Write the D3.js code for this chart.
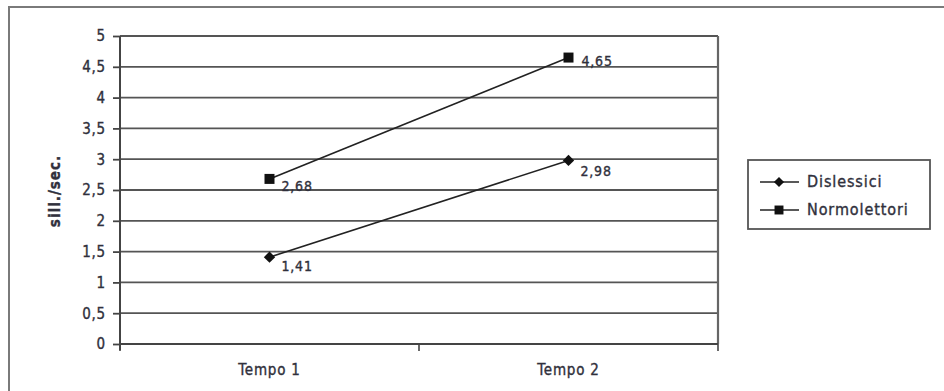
<!DOCTYPE html>
<html>
<head>
<meta charset="utf-8">
<script src="https://cdn.jsdelivr.net/npm/d3@7"></script>
<style>
  html, body { margin: 0; padding: 0; background: #fff; }
  svg { display: block; }
  text { font-family: "DejaVu Sans Condensed", "DejaVu Sans", sans-serif; fill: #30303c; stroke: #30303c; stroke-width: 0.35px; }
</style>
</head>
<body>
<svg id="chart" width="944" height="391"></svg>
<script>
// Reading speed (syllables per second) at two time points
const categories = ["Tempo 1", "Tempo 2"];
const dislessici = [1.41, 2.98];
const normolettori = [2.68, 4.65];
const seriesNames = ["Dislessici", "Normolettori"];
const yTicks = [0, 0.5, 1, 1.5, 2, 2.5, 3, 3.5, 4, 4.5, 5];
const yTitle = "sill./sec.";

const svg = d3.select("#chart");
const fmt = v => String(v).replace(".", ",");

// frame round the whole figure
svg.append("rect")
  .attr("x", 9).attr("y", 7).attr("width", 960).attr("height", 420)
  .attr("fill", "none").attr("stroke", "#7a7a7a").attr("stroke-width", 2);

const plot = { left: 120, right: 718, top: 36, bottom: 344 };

const x = d3.scaleBand().domain(categories).range([plot.left, plot.right]);
const y = d3.scaleLinear().domain([0, 5]).range([plot.bottom, plot.top]);

// horizontal grid lines
svg.append("g").selectAll("line").data(yTicks.filter(t => t > 0)).join("line")
  .attr("x1", plot.left).attr("x2", plot.right)
  .attr("y1", d => y(d)).attr("y2", d => y(d))
  .attr("stroke", "#555").attr("stroke-width", 1.8);

// right edge of the plot area
svg.append("line")
  .attr("x1", plot.right).attr("x2", plot.right)
  .attr("y1", plot.top).attr("y2", plot.bottom)
  .attr("stroke", "#666").attr("stroke-width", 2.2);

// y axis
const yAxis = d3.axisLeft(y).tickValues(yTicks).tickSize(7).tickPadding(7).tickFormat(fmt);
const gy = svg.append("g").attr("transform", `translate(${plot.left},0)`).call(yAxis);
gy.select(".domain").attr("stroke", "#444").attr("stroke-width", 2).attr("d", `M0,${plot.top}V${plot.bottom + 6}`);
gy.selectAll(".tick line").attr("stroke", "#444").attr("stroke-width", 1.8);
gy.selectAll(".tick text").attr("font-size", 15).attr("letter-spacing", 0.8)
  .attr("font-family", "DejaVu Sans Condensed").attr("fill", "#30303c");

// x axis with ticks on the band boundaries
const gx = svg.append("g").attr("transform", `translate(0,${plot.bottom})`);
gx.append("line").attr("x1", plot.left).attr("x2", plot.right)
  .attr("stroke", "#444").attr("stroke-width", 2);
const bounds = [plot.left, ...categories.slice(1).map(c => x(c)), plot.right];
gx.selectAll("line.tk").data(bounds).join("line").attr("class", "tk")
  .attr("x1", d => d).attr("x2", d => d).attr("y1", 0).attr("y2", 7)
  .attr("stroke", "#444").attr("stroke-width", 1.6);
gx.selectAll("text").data(categories).join("text")
  .attr("x", d => x(d) + x.bandwidth() / 2).attr("y", 31)
  .attr("text-anchor", "middle").attr("font-size", 15).attr("letter-spacing", 0.8)
  .text(d => d);

// y axis title
svg.append("text")
  .attr("transform", `translate(60,191) rotate(-90)`)
  .attr("text-anchor", "middle").attr("font-size", 15).attr("font-weight", "bold")
  .attr("letter-spacing", 1).attr("fill", "#222").attr("stroke", "none").text(yTitle);

const cx = c => x(c) + x.bandwidth() / 2;
const line = d3.line().x(d => cx(d.c)).y(d => y(d.v));

// diamond drawn as a square turned by 45 degrees
const series = [
  { name: seriesNames[0], values: dislessici, symbol: d3.symbolSquare, size: 64, rot: 45,
    labelDx: [12, 12], labelDy: [10, 12] },
  { name: seriesNames[1], values: normolettori, symbol: d3.symbolSquare, size: 100, rot: 0,
    labelDx: [12, 13], labelDy: [8, 4] }
];

series.forEach(s => {
  const pts = categories.map((c, i) => ({ c, v: s.values[i], i }));
  svg.append("path").datum(pts).attr("d", line)
    .attr("fill", "none").attr("stroke", "#222").attr("stroke-width", 1.6);
  svg.append("g").selectAll("path").data(pts).join("path")
    .attr("transform", d => `translate(${cx(d.c)},${y(d.v)}) rotate(${s.rot})`)
    .attr("d", d3.symbol().type(s.symbol).size(s.size))
    .attr("fill", "#111");
  svg.append("g").selectAll("text").data(pts).join("text")
    .attr("x", d => cx(d.c) + s.labelDx[d.i])
    .attr("y", d => y(d.v) + s.labelDy[d.i])
    .attr("dominant-baseline", "middle")
    .attr("font-size", 14).attr("letter-spacing", 0.8)
    .text(d => fmt(d.v));
});

// legend
const lg = svg.append("g");
lg.append("rect").attr("x", 748).attr("y", 160).attr("width", 182).attr("height", 69)
  .attr("fill", "#fff").attr("stroke", "#555").attr("stroke-width", 1.8);
series.forEach((s, i) => {
  const ly = 182 + i * 28;
  lg.append("line").attr("x1", 760).attr("x2", 799).attr("y1", ly).attr("y2", ly)
    .attr("stroke", "#222").attr("stroke-width", 1.6);
  lg.append("path").attr("transform", `translate(779,${ly}) rotate(${s.rot})`)
    .attr("d", d3.symbol().type(s.symbol).size(s.size * 0.8)).attr("fill", "#111");
  lg.append("text").attr("x", 807).attr("y", ly).attr("dominant-baseline", "middle")
    .attr("font-size", 16).attr("letter-spacing", 0.9).text(s.name);
});
</script>
</body>
</html>
